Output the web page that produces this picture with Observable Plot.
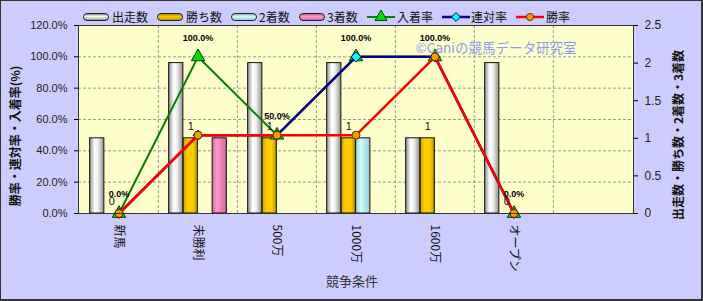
<!DOCTYPE html>
<html><head><meta charset="utf-8">
<script src="https://cdn.jsdelivr.net/npm/d3@7"></script>
<script src="https://cdn.jsdelivr.net/npm/@observablehq/plot@0.6"></script>
<style>
html,body{margin:0;padding:0;background:#fff;}
#wrap{position:relative;width:703px;height:301px;background:#CCCCFF;overflow:hidden;font-family:"Noto Sans CJK JP",sans-serif;}
#chart{position:absolute;left:0;top:0;}
#border{position:absolute;left:0;top:0;width:703px;height:301px;box-sizing:border-box;border-top:1px solid #333;border-left:1px solid #333;border-right:2px solid #333;border-bottom:2px solid #333;pointer-events:none;}
.lg{position:absolute;top:9px;font-size:12px;line-height:16px;color:#111;white-space:nowrap;}
.sw{position:absolute;top:13px;width:24px;height:6px;border:1.5px solid #222;border-radius:4px;}
.ls{position:absolute;top:10px;}
.ttl{position:absolute;transform:translate(-50%,-50%) rotate(-90deg);white-space:nowrap;font-size:12px;font-weight:bold;color:#111;line-height:14px;}
</style></head>
<body>
<div id="wrap"><div id="chart"></div><div id="legend"></div><div id="titles"></div><div id="border"></div></div>
<script>
const categories = ["新馬","未勝利","500万","1000万","1600万","オープン"];
const spareSlot = [""];
const starts  = [1,2,2,2,1,2];
const wins    = [0,1,1,1,1,0];
const seconds = [0,0,0,1,0,0];
const thirds  = [0,1,0,0,0,0];
const placeRate  = [0,100,50,100,100,0];
const rentaiRate = [0,50,50,100,100,0];
const winRate    = [0,50,50,50,100,0];
const pctTicks = [0,20,40,60,80,100,120];
const countTicks = [0,0.5,1,1.5,2,2.5];
const leftTitle = "勝率・連対率・入着率(%)";
const rightTitle = "出走数・勝ち数・2着数・3着数";
const xTitle = "競争条件";
const watermark = "©Caniの競馬データ研究室";

const W=703,H=301,mL=78,mR=70,mT=25,mB=88;
const xDomain=[...categories,...spareSlot];
const bw=(W-mL-mR)/xDomain.length;
const pctMax=120,countMax=2.5,k=pctMax/countMax;
const slot=14.5,pad=(bw-slot*4)/2;

const barSeries=[
 {name:"出走数",values:starts,fill:"url(#gStart)",css:"linear-gradient(#888,#fff 40%,#999)"},
 {name:"勝ち数",values:wins,fill:"url(#gWin)",css:"linear-gradient(#b08800,#ffcc00 45%,#c09a00)"},
 {name:"2着数",values:seconds,fill:"url(#gSecond)",css:"linear-gradient(#88bbbb,#ccffff 45%,#99cccc)"},
 {name:"3着数",values:thirds,fill:"url(#gThird)",css:"linear-gradient(#c06090,#ff99cc 45%,#d070a0)"}
];
const lineSeries=[
 {name:"入着率",values:placeRate,stroke:"#008000",symbol:"triangle",fill:"#00DD00",ms:"#004400",r:5,sw:2},
 {name:"連対率",values:rentaiRate,stroke:"#000080",symbol:"diamond2",fill:"#00FFFF",ms:"#000060",r:4.5,sw:2.5},
 {name:"勝率",values:winRate,stroke:"#FF0000",symbol:"circle",fill:"#FF9900",ms:"#553300",r:4,sw:2.5}
];

const marks=[Plot.frame({fill:"#FFFFCC"})];
marks.push(Plot.ruleY(pctTicks.filter(t=>t>0&&t<pctMax),{y:d=>d,stroke:"#999",strokeDasharray:"3,2",strokeWidth:1}));
marks.push(Plot.ruleX(xDomain.slice(1),{x:d=>d,dx:-bw/2,stroke:"#999",strokeDasharray:"3,2",strokeWidth:1}));
barSeries.forEach((s,i)=>{
  const data=categories.map((c,j)=>({c,v:s.values[j]})).filter(d=>d.v>0);
  marks.push(Plot.rectY(data,{x:"c",y1:0,y2:d=>d.v*k,fill:s.fill,stroke:"#111",strokeWidth:1,insetLeft:pad+slot*i,insetRight:bw-pad-slot*(i+1)}));
});
lineSeries.forEach(s=>{
  const data=categories.map((c,j)=>({c,v:s.values[j]}));
  marks.push(Plot.line(data,{x:"c",y:"v",stroke:s.stroke,strokeWidth:s.sw}));
  marks.push(Plot.dot(data,{x:"c",y:"v",symbol:s.symbol,fill:s.fill,stroke:s.ms,strokeWidth:1,r:s.r}));
});
marks.push(Plot.text(categories,{x:d=>d,y:(d,i)=>wins[i]*k,text:(d,i)=>String(wins[i]),dx:-slot/2,dy:-12,fontSize:11,fill:"#111",fontFamily:"Liberation Sans"}));
marks.push(Plot.text(categories,{x:d=>d,y:(d,i)=>placeRate[i],text:(d,i)=>placeRate[i].toFixed(1)+"%",dy:-19,fontSize:9,fontWeight:"bold",fill:"#000",fontFamily:"Liberation Sans"}));
marks.push(Plot.text([watermark],{frameAnchor:"top",dx:140,dy:18,fontSize:13.5,fill:"#8c9cf2",fontFamily:"Noto Sans CJK JP"}));
marks.push(Plot.axisY({ticks:pctTicks,tickFormat:d=>d.toFixed(1)+"%",anchor:"left",tickSize:4,tickPadding:7,fontSize:11,fill:"#222",label:null,fontFamily:"Liberation Sans"}));
marks.push(Plot.axisY(countTicks.map(c=>c*k),{tickFormat:d=>String(d/k),anchor:"right",tickSize:4,tickPadding:7,fontSize:12,fill:"#222",label:null,fontFamily:"Liberation Sans"}));
marks.push(Plot.axisX(categories,{tickRotate:90,tickSize:0,tickPadding:11,fontSize:12,fill:"#111",label:null}));
marks.push(Plot.frame({stroke:"#333"}));
marks.push(Plot.text([xTitle],{frameAnchor:"bottom",dx:-4,dy:72,fontSize:13,fill:"#333"}));

const svg=Plot.plot({
  width:W,height:H,marginLeft:mL,marginRight:mR,marginTop:mT,marginBottom:mB,
  style:{background:"transparent",fontFamily:"'Noto Sans CJK JP',sans-serif"},
  x:{type:"band",domain:xDomain,padding:0},
  y:{domain:[0,pctMax]},
  marks
});
const defs=d3.select(svg).insert("defs",":first-child");
function grad(id,stops){
  const g=defs.append("linearGradient").attr("id",id).attr("x1",0).attr("x2",1).attr("y1",0).attr("y2",0);
  stops.forEach(([o,c])=>g.append("stop").attr("offset",o).attr("stop-color",c));
}
grad("gStart",[[0,"#8a8a8a"],[0.35,"#ffffff"],[0.6,"#eeeeee"],[1,"#8f8f8f"]]);
grad("gWin",[[0,"#c89e00"],[0.3,"#ffcc00"],[0.7,"#ffcc00"],[1,"#b38f00"]]);
grad("gSecond",[[0,"#a0d0d0"],[0.35,"#ccffff"],[1,"#99cccc"]]);
grad("gThird",[[0,"#d070a0"],[0.35,"#ff99cc"],[1,"#cc6699"]]);
document.getElementById("chart").appendChild(svg);

// axis titles
const tt=document.getElementById("titles");
[[leftTitle,15,136],[rightTitle,678,135]].forEach(([txt,x,y])=>{
  const d=document.createElement("div");d.className="ttl";d.style.left=x+"px";d.style.top=y+"px";d.textContent=txt;tt.appendChild(d);
});

// legend
const lg=document.getElementById("legend");
const barPos=[[83,112],[157,186],[231,259],[299,327]];
barSeries.forEach((s,i)=>{
  const sw=document.createElement("div");sw.className="sw";sw.style.left=barPos[i][0]+"px";sw.style.background=s.css;lg.appendChild(sw);
  const t=document.createElement("div");t.className="lg";t.style.left=barPos[i][1]+"px";t.textContent=s.name;lg.appendChild(t);
});
const linePos=[[367,397],[442,471],[516,546]];
lineSeries.forEach((s,i)=>{
  const el=d3.create("svg").attr("width",28).attr("height",14).attr("class","ls").style("left",linePos[i][0]+"px");
  el.append("line").attr("x1",0).attr("x2",28).attr("y1",7).attr("y2",7).attr("stroke",s.stroke).attr("stroke-width",s.sw);
  const sym={triangle:d3.symbolTriangle,diamond2:d3.symbolDiamond2,circle:d3.symbolCircle}[s.symbol];
  el.append("path").attr("d",d3.symbol(sym,Math.PI*s.r*s.r*0.8)()).attr("transform","translate(14,7)").attr("fill",s.fill).attr("stroke",s.ms);
  lg.appendChild(el.node());
  const t=document.createElement("div");t.className="lg";t.style.left=linePos[i][1]+"px";t.textContent=s.name;lg.appendChild(t);
});
</script>
</body></html>
